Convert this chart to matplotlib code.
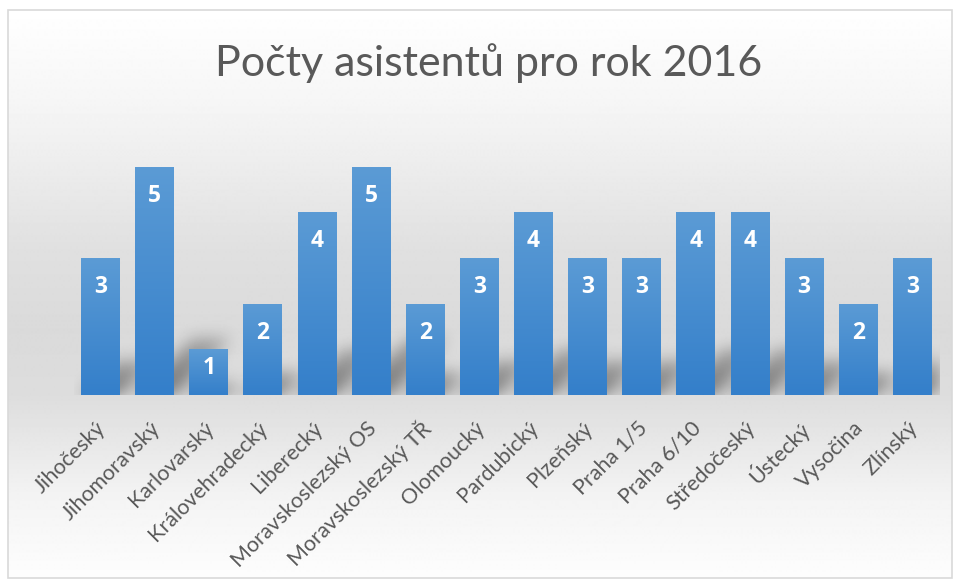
import numpy as np
import matplotlib
matplotlib.use("Agg")
import matplotlib.pyplot as plt
from matplotlib.patches import Rectangle

# ===============================
# DATA
# ===============================
regions = ["Jihočeský", "Jihomoravský", "Karlovarský", "Královehradecký", "Liberecký",
           "Moravskoslezský OS", "Moravskoslezský TŘ", "Olomoucký", "Pardubický", "Plzeňský",
           "Praha 1/5", "Praha 6/10", "Středočeský", "Ústecký", "Vysočina", "Zlínský"]
counts = [3, 5, 1, 2, 4, 5, 2, 3, 4, 3, 3, 4, 4, 3, 2, 3]
title = "Počty asistentů pro rok 2016"

plt.rcParams['font.family'] = ['Lato', 'DejaVu Sans']

W, H = 959, 581
fig = plt.figure(figsize=(W / 100, H / 100), dpi=100)

# ===============================
# CHART AREA BACKGROUND (gradient + border)
# ===============================
bg = fig.add_axes([0, 0, 1, 1])
bg.set_xlim(0, W)
bg.set_ylim(H, 0)
bg.axis('off')
stop_y = [10, 100, 150, 250, 330, 395, 450, 500, 578]
stop_g = [255, 246, 239, 224, 218, 221, 233, 244, 253]
yy = np.arange(10, 579)
shade = np.interp(yy, stop_y, stop_g) / 255
bg.imshow(np.repeat(shade[:, None], 2, axis=1), cmap='gray', vmin=0, vmax=1,
          extent=(8, 952, 578, 10), aspect='auto', interpolation='bilinear')
bg.add_patch(Rectangle((8, 10), 944, 568, fill=False, ec='#d9d9d9', lw=1.2))

# ===============================
# PLOT AREA
# ===============================
ax = fig.add_axes([73.5 / W, (H - 395) / H, 866 / W, 274 / H])
ax.set_xlim(-0.5, len(regions) - 0.5)
ax.set_ylim(0, 6)
ax.patch.set_alpha(0)
ax.axis('off')

x = np.arange(len(regions))
bars = ax.bar(x, counts, width=0.72, color='none', zorder=3)

# pixel scale of the axes
px_x = 866 / (len(regions))
px_y = 274 / 6

# soft perspective shadows behind bars
nx, ny = 866, 274
gx = np.linspace(-0.5, len(regions) - 0.5, nx)
gy = np.linspace(0, 6, ny)
GX, GY = np.meshgrid(gx, gy)
mask = np.zeros((ny, nx))
for b in bars:
    bh = b.get_height() * px_y
    sh = 0.25 * bh
    hpx = GY * px_y
    shift = hpx / px_x
    inside = (hpx <= sh) & (GX >= b.get_x() + shift) & (GX <= b.get_x() + b.get_width() + shift)
    mask = np.maximum(mask, inside * (1 - 0.5 * hpx / max(sh, 1)))
k = np.exp(-0.5 * (np.arange(-24, 25) / 8.0) ** 2)
k /= k.sum()
mask = np.apply_along_axis(lambda r: np.convolve(r, k, mode='same'), 1, mask)
mask = np.apply_along_axis(lambda c: np.convolve(c, k, mode='same'), 0, mask)
rgba = np.zeros((ny, nx, 4))
rgba[..., 3] = 0.5 * mask
ax.imshow(rgba, extent=(-0.5, len(regions) - 0.5, 0, 6), origin='lower',
          aspect='auto', zorder=1, interpolation='bilinear')

# gradient fill of each bar
top = np.array([91, 155, 213]) / 255
bot = np.array([52, 127, 202]) / 255
t = np.linspace(0, 1, 64)[:, None]
grad = (bot * (1 - t) + top * t)[:, None, :]
for b in bars:
    im = ax.imshow(grad, extent=(b.get_x(), b.get_x() + b.get_width(), 0, b.get_height()),
                   origin='lower', aspect='auto', zorder=2, interpolation='bilinear')
    im.set_clip_path(b)

ax.set_xlim(-0.5, len(regions) - 0.5)
ax.set_ylim(0, 6)

# value labels inside end
for b, v in zip(bars, counts):
    off = min(29, b.get_height() * px_y / 2 - 4)
    ax.annotate(str(v), xy=(b.get_x() + b.get_width() / 2, v), xytext=(0, -off),
                textcoords='offset pixels', ha='center', va='center',
                color='white', fontsize=16.5, fontweight='bold', zorder=4,
                family=['Open Sans', 'DejaVu Sans'])

# category labels
for i, name in enumerate(regions):
    ax.annotate(name, xy=(i, 0), xytext=(2, -30), textcoords='offset pixels',
                rotation=45, rotation_mode='anchor', ha='right', va='center',
                color='#595959', fontsize=15.5, annotation_clip=False)

fig.text(489 / W, 1 - 76 / H, title, ha='center', va='baseline',
         fontsize=31, color='#595959')

fig.savefig('out.png', dpi=100)
